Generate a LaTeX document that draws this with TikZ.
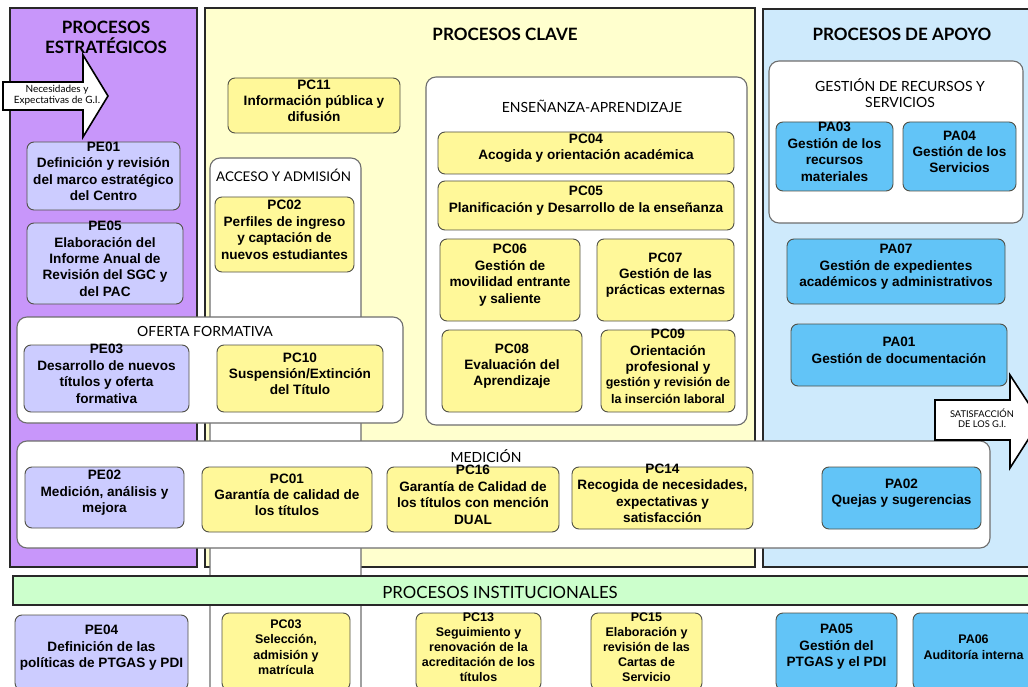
\documentclass[tikz,border=0pt]{standalone}
\usepackage{fontspec}
\setmainfont{Liberation Sans}
\newfontfamily\tfont{Lato}
\usetikzlibrary{fit}
\definecolor{pepanel}{RGB}{200,150,250}
\definecolor{pcpanel}{RGB}{255,255,206}
\definecolor{papanel}{RGB}{206,234,252}
\definecolor{instfill}{RGB}{204,255,204}
\definecolor{pefill}{RGB}{204,204,255}
\definecolor{pcfill}{RGB}{255,248,153}
\definecolor{pafill}{RGB}{98,196,247}
\definecolor{panelline}{RGB}{40,40,40}
\definecolor{boxline}{RGB}{80,80,70}
\definecolor{grpline}{RGB}{110,110,110}
\newcommand\bxfont{\fontsize{13.6}{16.4}\selectfont\bfseries}
\newcommand\bxsmall{\fontsize{12.5}{15.2}\selectfont\bfseries}
\newcommand\bnode[5]{\node[#1, fit={#3 #4}] (#2) {#5};}
\begin{document}
\begin{tikzpicture}[x=1pt,y=-1pt,
  panel/.style={draw=panelline, line width=2.4pt},
  group/.style={draw=grpline, fill=white, line width=1.1pt, rounded corners=10pt},
  box/.style={draw=boxline, line width=0.9pt, rounded corners=7pt, inner sep=0pt, align=center, font=\bxfont},
  pebox/.style={box, fill=pefill},
  pcbox/.style={box, fill=pcfill},
  pabox/.style={box, fill=pafill},
  ptitle/.style={font=\tfont\fontsize{17}{20}\selectfont\bfseries, align=center, inner sep=0pt},
  gtitle/.style={font=\tfont\fontsize{14}{15.5}\selectfont, align=center, inner sep=0pt},
  blockarrow/.style={draw=black, fill=white, line width=1.6pt, line join=miter},
  arrowtext/.style={font=\tfont\fontsize{10}{10.5}\selectfont, align=center, inner sep=0pt}
]
\useasboundingbox (0,0) rectangle (1028,687);
\clip (0,0) rectangle (1028,687);
\fill[white] (0,0) rectangle (1028,687);

% panels
\draw[panel, fill=pepanel] (10,8) rectangle (197,567);
\draw[panel, fill=pcpanel] (205,8) rectangle (755,567);
\draw[panel, fill=papanel] (763,9) rectangle (1040,567);

\node[ptitle] (tpe) at (106,37) {PROCESOS\\ESTRATÉGICOS};
\node[ptitle] (tpc) at (505,34) {PROCESOS CLAVE};
\node[ptitle] (tpa) at (902,34) {PROCESOS DE APOYO};

% group boxes
\draw[group] (210,158) rectangle (361,700);
\node[gtitle, anchor=west, font=\tfont\fontsize{13.4}{15}\selectfont] (tacc) at (216,175) {ACCESO Y ADMISIÓN};
\draw[group] (426,77) rectangle (747,425);
\node[gtitle] (tens) at (592,106) {ENSEÑANZA-APRENDIZAJE};
\draw[group] (769,61) rectangle (1023,223);
\node[gtitle] (tges) at (900,93) {GESTIÓN DE RECURSOS Y\\SERVICIOS};
\draw[group] (17,317) rectangle (403,423);
\node[gtitle] (tofe) at (205,331) {OFERTA FORMATIVA};
\draw[group] (17,441) rectangle (990,548);
\node[gtitle] (tmed) at (486,456) {MEDICIÓN};

% institutional bar
\draw[panel, fill=instfill] (13,576) rectangle (1040,605);
\node[font=\tfont\fontsize{16.8}{18}\selectfont, inner sep=0pt] (tins) at (500,592) {PROCESOS INSTITUCIONALES};

% block arrows
\draw[blockarrow] (3,82) -- (83,82) -- (83,55) -- (108,96) -- (83,137) -- (83,110) -- (3,110) -- cycle;
\node[arrowtext] (tnec) at (57,95) {Necesidades y\\Expectativas de G.I.};
\draw[blockarrow] (935,400) -- (1010,400) -- (1010,375) -- (1040,421) -- (1010,468) -- (1010,440) -- (935,440) -- cycle;
\node[arrowtext, font=\tfont\fontsize{9.3}{9.6}\selectfont] (tsat) at (982,418) {SATISFACCIÓN\\DE LOS G.I.};

% strategic
\bnode{pebox}{pe01}{(27,142)}{(180,210)}{PE01\\Definición y revisión\\del marco estratégico\\del Centro}
\bnode{pebox}{pe05}{(27,223)}{(183,304)}{PE05\\Elaboración del\\Informe Anual de\\Revisión del SGC y\\del PAC}
\bnode{pebox}{pe03}{(24,345)}{(189,412)}{PE03\\Desarrollo de nuevos\\títulos y oferta\\formativa}
\bnode{pebox}{pe02}{(25,467)}{(184,528)}{PE02\\Medición, análisis y\\mejora}
\bnode{pebox}{pe04}{(15,615)}{(188,690)}{PE04\\Definición de las\\políticas de PTGAS y PDI}

% key
\bnode{pcbox}{pc11}{(228,78)}{(400,133)}{PC11\\Información pública y\\difusión}
\bnode{pcbox}{pc02}{(215,197)}{(354,272)}{PC02\\Perfiles de ingreso\\y captación de\\nuevos estudiantes}
\bnode{pcbox}{pc04}{(438,132)}{(734,174)}{PC04\\Acogida y orientación académica}
\bnode{pcbox}{pc05}{(438,181)}{(734,230)}{PC05\\Planificación y Desarrollo de la enseñanza}
\bnode{pcbox}{pc06}{(440,239)}{(580,321)}{PC06\\Gestión de\\movilidad entrante\\y saliente}
\bnode{pcbox}{pc07}{(597,239)}{(734,321)}{PC07\\Gestión de las\\prácticas externas}
\bnode{pcbox}{pc08}{(442,330)}{(582,412)}{PC08\\Evaluación del\\Aprendizaje}
\bnode{pcbox}{pc09}{(601,330)}{(735,412)}{PC09\\Orientación\\profesional y\\\bxsmall gestión y revisión de\\la inserción laboral}
\bnode{pcbox}{pc10}{(217,345)}{(383,412)}{PC10\\Suspensión/Extinción\\del Título}
\bnode{pcbox}{pc01}{(202,467)}{(372,532)}{PC01\\Garantía de calidad de\\los títulos}
\bnode{pcbox}{pc16}{(387,467)}{(559,532)}{PC16\\Garantía de Calidad de\\los títulos con mención\\DUAL}
\bnode{pcbox}{pc14}{(572,467)}{(753,529)}{PC14\\Recogida de necesidades,\\expectativas y\\satisfacción}
\bnode{pcbox, font=\bxsmall}{pc03}{(222,613)}{(350,690)}{PC03\\Selección,\\admisión y\\matrícula}
\bnode{pcbox, font=\bxsmall}{pc13}{(416,613)}{(541,690)}{PC13\\Seguimiento y\\renovación de la\\acreditación de los\\títulos}
\bnode{pcbox, font=\bxsmall}{pc15}{(591,613)}{(702,690)}{PC15\\Elaboración y\\revisión de las\\Cartas de\\Servicio}

% support
\bnode{pabox}{pa03}{(776,122)}{(893,191)}{PA03\\Gestión de los\\recursos\\materiales}
\bnode{pabox}{pa04}{(903,122)}{(1016,191)}{PA04\\Gestión de los\\Servicios}
\bnode{pabox}{pa07}{(787,239)}{(1005,304)}{PA07\\Gestión de expedientes\\académicos y administrativos}
\bnode{pabox}{pa01}{(791,324)}{(1007,386)}{PA01\\Gestión de documentación}
\bnode{pabox}{pa02}{(822,467)}{(981,529)}{PA02\\Quejas y sugerencias}
\bnode{pabox}{pa05}{(776,613)}{(897,690)}{PA05\\Gestión del\\PTGAS y el PDI}
\bnode{pabox, font=\bxsmall}{pa06}{(913,613)}{(1034,690)}{PA06\\Auditoría interna}
\end{tikzpicture}
\end{document}
